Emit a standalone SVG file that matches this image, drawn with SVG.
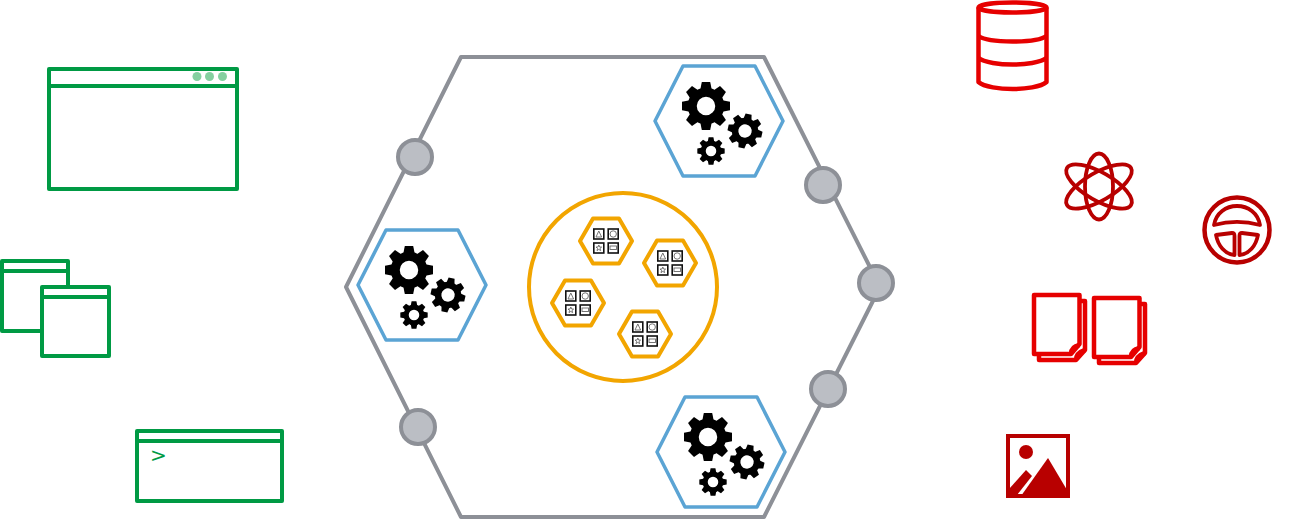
<svg xmlns="http://www.w3.org/2000/svg" width="1303" height="530" viewBox="0 0 1303 530">
<style>
.bg{fill:#fff}
.outer{fill:none;stroke:#8d9097;stroke-width:4;stroke-linejoin:round}
.port{fill:#bbbec4;stroke:#8d9097;stroke-width:4}
.svc{fill:#fff;stroke:#5ba4d4;stroke-width:3.5;stroke-linejoin:round}
.orange{fill:#fff;stroke:#f2a500;stroke-width:4;stroke-linejoin:round}
.win{fill:#fff;stroke:#009a44;stroke-width:4;stroke-linejoin:round}
.red{fill:none;stroke:#e60000;stroke-width:4.500;stroke-linejoin:round}
.dark{fill:none;stroke:#b80000;stroke-width:3.800;stroke-linejoin:round}
.cell{fill:#fff;stroke:#111;stroke-width:1.600}
.sym{fill:none;stroke:#666;stroke-width:.9}
</style>
<defs>
<polygon id="tooth" points="-6,-15 -4.200,-24 4.200,-24 6,-15"/>
<g id="gear" fill="#000">
<circle r="13.750" fill="none" stroke="#000" stroke-width="9"/>
<use href="#tooth"/><use href="#tooth" transform="rotate(45)"/><use href="#tooth" transform="rotate(90)"/><use href="#tooth" transform="rotate(135)"/><use href="#tooth" transform="rotate(180)"/><use href="#tooth" transform="rotate(225)"/><use href="#tooth" transform="rotate(270)"/><use href="#tooth" transform="rotate(315)"/>
</g>
<g id="service">
<polygon class="svc" points="-64,0 -36,-55 36,-55 64,0 36,55 -36,55"/>
<use href="#gear" transform="translate(-13,-15)"/>
<use href="#gear" transform="translate(26,10) scale(.72) rotate(12)"/>
<use href="#gear" transform="translate(-8,30) scale(.57)"/>
</g>
<g id="micro">
<polygon class="orange" points="-26,0 -13,-22.500 13,-22.500 26,0 13,22.500 -13,22.500"/>
<rect class="cell" x="-12.200" y="-12" width="10" height="10"/>
<rect class="cell" x="2.200" y="-12" width="10" height="10"/>
<rect class="cell" x="-12.200" y="2" width="10" height="10"/>
<rect class="cell" x="2.200" y="2" width="10" height="10"/>
<polygon class="sym" points="-7.200,-10 -4.400,-4 -10,-4"/>
<circle class="sym" cx="7.200" cy="-7" r="3.200"/>
<polygon class="sym" points="-7.200,4 -6.400,6 -4.400,6.100 -6,7.400 -5.400,9.600 -7.200,8.400 -9,9.600 -8.400,7.400 -10,6.100 -8,6"/>
<rect class="sym" x="4" y="5" width="6.500" height="3.500"/>
</g>
<g id="doc">
<path d="M1034 295H1079.500V344L1071 354H1034Z"/>
<path d="M1071 354C1071 349 1074 346 1079.500 345"/>
<path d="M1079.500 301H1085V350L1076 360H1039V354"/>
<path d="M1076 360C1076 356 1079 352 1085 350"/>
</g>
</defs>
<rect class="bg" width="1303" height="530"/>
<g id="platform">
<polygon class="outer" points="461,57 764,57 880,287 764,517 461,517 346,287"/>
</g>
<g id="port-1"><circle class="port" cx="415" cy="157" r="17"/></g>
<g id="port-2"><circle class="port" cx="823" cy="185" r="17"/></g>
<g id="port-3"><circle class="port" cx="876" cy="283" r="17"/></g>
<g id="port-4"><circle class="port" cx="828" cy="389" r="17"/></g>
<g id="port-5"><circle class="port" cx="418" cy="427" r="17"/></g>
<g id="service-top"><use href="#service" transform="translate(719,121)"/></g>
<g id="service-left"><use href="#service" transform="translate(422,285)"/></g>
<g id="service-bottom"><use href="#service" transform="translate(721,452)"/></g>
<g id="micro-cluster">
<circle class="orange" cx="623" cy="287" r="94"/>
<use href="#micro" transform="translate(606,241)"/>
<use href="#micro" transform="translate(670,263)"/>
<use href="#micro" transform="translate(578,303)"/>
<use href="#micro" transform="translate(645,334)"/>
</g>
<g id="browser-window">
<rect class="win" x="49" y="69" width="188" height="120"/>
<path class="win" d="M49 86H237"/>
<circle cx="197" cy="76.500" r="4.500" fill="#85d0a0"/><circle cx="209.500" cy="76.500" r="4.500" fill="#85d0a0"/><circle cx="222.500" cy="76.500" r="4.500" fill="#85d0a0"/>
</g>
<g id="app-windows">
<rect class="win" x="2" y="261" width="66" height="70"/>
<path class="win" d="M2 271H68"/>
<rect class="win" x="42" y="287" width="67" height="69"/>
<path class="win" d="M42 297H109"/>
</g>
<g id="terminal">
<rect class="win" x="137" y="431" width="145" height="70"/>
<path class="win" d="M137 441H282"/>
<text x="150" y="462" font-family="'DejaVu Sans',sans-serif" font-size="20" fill="#009a44">&gt;</text>
</g>
<g id="database" class="red">
<ellipse cx="1012.500" cy="7.500" rx="34" ry="5"/>
<path d="M978.500 7.500V82C984 87 1000 89 1012.500 89S1041 87 1046.500 82V7.500"/>
<path d="M978.500 36C984 40 1000 41.500 1012.500 41.500S1041 40 1046.500 36"/>
<path d="M978.500 58C984 62.500 1000 64.500 1012.500 64.500S1041 62.500 1046.500 58"/>
</g>
<g id="atom" class="dark">
<ellipse cx="1099" cy="186.500" rx="14" ry="33"/>
<ellipse cx="1099" cy="186.500" rx="14" ry="37" transform="rotate(60 1099 186.500)"/>
<ellipse cx="1099" cy="186.500" rx="14" ry="37" transform="rotate(-60 1099 186.500)"/>
</g>
<g id="steering-wheel" class="dark">
<circle cx="1237" cy="230" r="32.500" stroke-width="4.500"/>
<path d="M1214 225C1216 213 1226 206 1237 206S1258 213 1260 225C1245 221 1229 221 1214 225Z"/>
<path d="M1216 235L1232 233C1234 233 1234.500 234 1234.500 236V255C1225 254 1218 246 1216 235Z"/>
<path d="M1258 235L1242 233C1240 233 1239.500 234 1239.500 236V255C1249 254 1256 246 1258 235Z"/>
</g>
<g id="documents" class="red">
<use href="#doc"/>
<use href="#doc" transform="translate(60,3)"/>
</g>
<g id="image-file">
<rect x="1008" y="436" width="60" height="60" fill="#fff" stroke="#b80000" stroke-width="4"/>
<circle cx="1026" cy="452" r="7" fill="#b80000"/>
<polygon points="1009,489 1026,470 1032,476 1017,495 1009,495" fill="#b80000"/>
<polygon points="1048,458 1067,490 1067,496 1021,496" fill="#b80000"/>
</g>
</svg>
